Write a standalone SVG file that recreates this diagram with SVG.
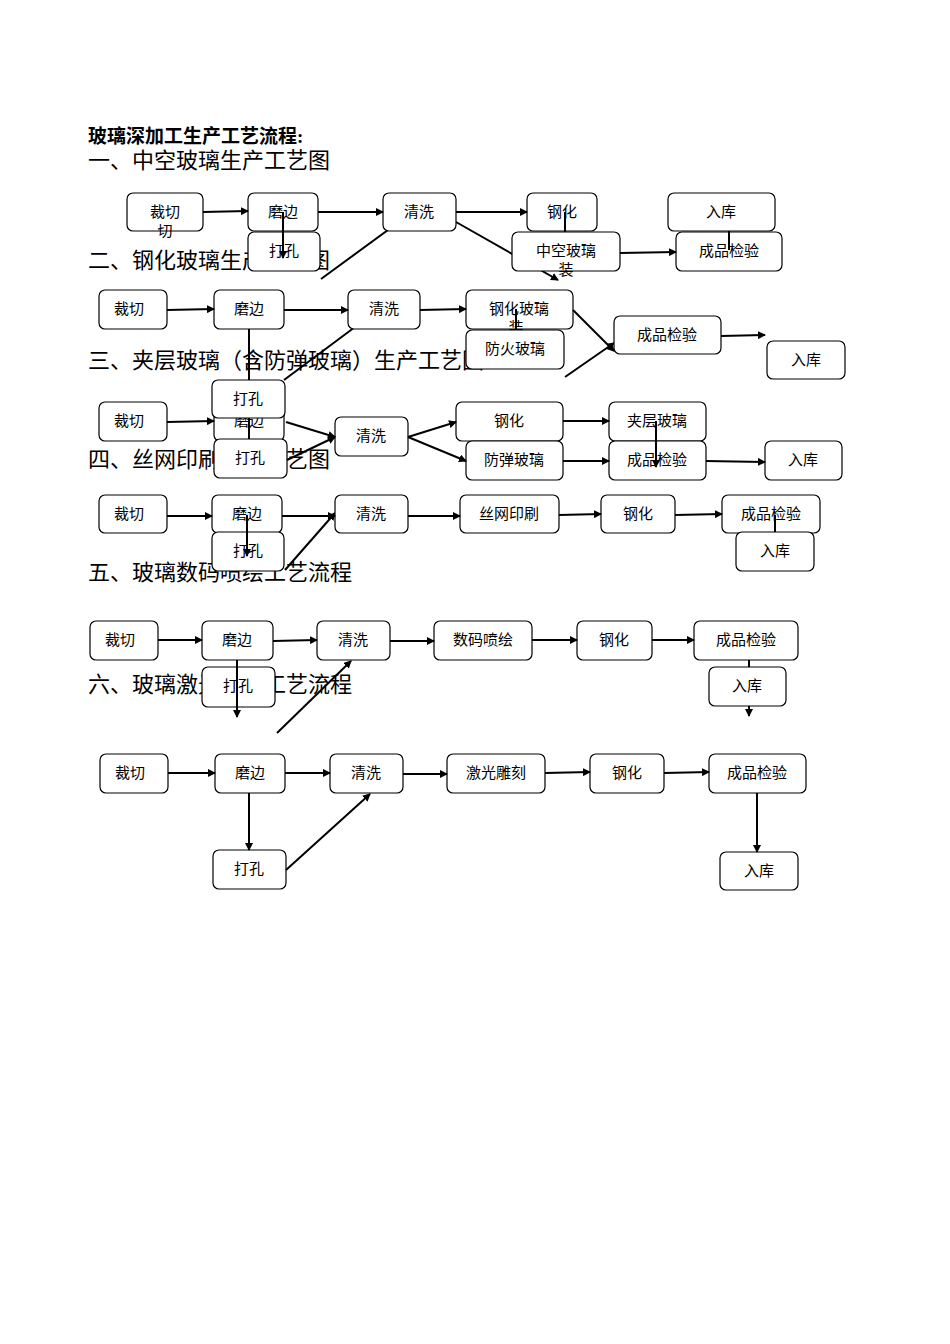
<svg xmlns="http://www.w3.org/2000/svg" width="950" height="1344" viewBox="0 0 950 1344">
<style>
.h{font-family:"Liberation Serif","Noto Sans CJK SC",serif;font-size:22px;fill:#000}
.t{font-family:"Liberation Serif","Noto Sans CJK SC",serif;font-size:19px;font-weight:bold;fill:#000}
.b rect{fill:#fff;stroke:#000;stroke-width:1.2}
.b text{font-family:"Liberation Sans","Noto Sans CJK SC",sans-serif;font-size:15px;text-anchor:middle;fill:#000}
.c line{stroke:#000;stroke-width:2}
</style>
<defs><marker id="a" markerWidth="8" markerHeight="8" refX="7" refY="4" orient="auto" markerUnits="userSpaceOnUse"><path d="M0,0L8,4L0,8z" fill="#000"/></marker></defs>
<rect width="950" height="1344" fill="#fff"/>
<g id="headings">
<text class="t" x="88" y="143">玻璃深加工生产工艺流程:</text>
<text class="h" x="88" y="168">一、中空玻璃生产工艺图</text>
<text class="h" x="88" y="268">二、钢化玻璃生产工艺图</text>
<text class="h" x="88" y="368">三、夹层玻璃（含防弹玻璃）生产工艺图</text>
<text class="h" x="88" y="467">四、丝网印刷生产工艺图</text>
<text class="h" x="88" y="580">五、玻璃数码喷绘工艺流程</text>
<text class="h" x="88" y="692">六、玻璃激光雕刻工艺流程</text>
</g>
<g id="connectors-back" class="c">
<line x1="456" y1="222" x2="558" y2="280" marker-end="url(#a)"/>
<line x1="321" y1="279" x2="418" y2="208" marker-end="url(#a)"/>
<line x1="284" y1="380" x2="355" y2="327"/>
<line x1="565" y1="377" x2="614" y2="343" marker-end="url(#a)"/>
<line x1="285" y1="570" x2="335" y2="513" marker-end="url(#a)"/>
</g>
<g class="b">
<g id="r1a"><rect x="127" y="193" width="76" height="38" rx="6"/><text x="165" y="217">裁切</text><text x="165" y="236">切</text></g>
<g id="r1b"><rect x="248" y="193" width="70" height="38" rx="6"/><text x="283" y="217">磨边</text></g>
<g id="r1c"><rect x="383" y="193" width="73" height="38" rx="6"/><text x="419" y="217">清洗</text></g>
<g id="r1d"><rect x="527" y="193" width="70" height="38" rx="6"/><text x="562" y="217">钢化</text></g>
<g id="r1e"><rect x="668" y="193" width="107" height="38" rx="6"/><text x="721" y="217">入库</text></g>
<g id="r1f"><rect x="248" y="232" width="72" height="39" rx="6"/><text x="284" y="256">打孔</text></g>
<g id="r1g"><rect x="512" y="232" width="108" height="39" rx="6"/><text x="566" y="256">中空玻璃</text><text x="566" y="275">装</text></g>
<g id="r1h"><rect x="676" y="232" width="106" height="39" rx="6"/><text x="729" y="256">成品检验</text></g>

<g id="r2a"><rect x="99" y="290" width="68" height="39" rx="6"/><text x="129" y="314">裁切</text></g>
<g id="r2b"><rect x="214" y="290" width="70" height="39" rx="6"/><text x="249" y="314">磨边</text></g>
<g id="r2c"><rect x="348" y="290" width="72" height="39" rx="6"/><text x="384" y="314">清洗</text></g>
<g id="r2d"><rect x="466" y="290" width="107" height="39" rx="6"/><text x="519" y="314">钢化玻璃</text><text x="516" y="333">装</text></g>
<g id="r2e"><rect x="466" y="330" width="98" height="39" rx="6"/><text x="515" y="354">防火玻璃</text></g>
<g id="r2f"><rect x="614" y="316" width="107" height="38" rx="6"/><text x="667" y="340">成品检验</text></g>
<g id="r2g"><rect x="767" y="341" width="78" height="38" rx="6"/><text x="806" y="365">入库</text></g>

<g id="r3a"><rect x="99" y="402" width="68" height="39" rx="6"/><text x="129" y="426">裁切</text></g>
<g id="r3b"><rect x="214" y="402" width="70" height="39" rx="6"/><text x="249" y="426">磨边</text></g>
<g id="r3c"><rect x="212" y="380" width="73" height="38" rx="6"/><text x="248" y="404">打孔</text></g>
<g id="r3d"><rect x="214" y="439" width="73" height="39" rx="6"/><text x="250" y="463">打孔</text></g>
<g id="r3e"><rect x="335" y="417" width="73" height="39" rx="6"/><text x="371" y="441">清洗</text></g>
<g id="r3f"><rect x="456" y="402" width="107" height="39" rx="6"/><text x="509" y="426">钢化</text></g>
<g id="r3g"><rect x="466" y="441" width="97" height="39" rx="6"/><text x="514" y="465">防弹玻璃</text></g>
<g id="r3h"><rect x="609" y="402" width="97" height="39" rx="6"/><text x="657" y="426">夹层玻璃</text></g>
<g id="r3i"><rect x="609" y="441" width="97" height="39" rx="6"/><text x="657" y="465">成品检验</text></g>
<g id="r3j"><rect x="765" y="441" width="77" height="39" rx="6"/><text x="803" y="465">入库</text></g>

<g id="r4a"><rect x="99" y="495" width="68" height="38" rx="6"/><text x="129" y="519">裁切</text></g>
<g id="r4b"><rect x="212" y="495" width="70" height="38" rx="6"/><text x="247" y="519">磨边</text></g>
<g id="r4c"><rect x="335" y="495" width="73" height="38" rx="6"/><text x="371" y="519">清洗</text></g>
<g id="r4d"><rect x="460" y="495" width="99" height="38" rx="6"/><text x="509" y="519">丝网印刷</text></g>
<g id="r4e"><rect x="601" y="495" width="74" height="38" rx="6"/><text x="638" y="519">钢化</text></g>
<g id="r4f"><rect x="722" y="495" width="98" height="38" rx="6"/><text x="771" y="519">成品检验</text></g>
<g id="r4g"><rect x="212" y="532" width="72" height="39" rx="6"/><text x="248" y="556">打孔</text></g>
<g id="r4h"><rect x="736" y="532" width="78" height="39" rx="6"/><text x="775" y="556">入库</text></g>

<g id="r5a"><rect x="90" y="621" width="68" height="39" rx="6"/><text x="120" y="645">裁切</text></g>
<g id="r5b"><rect x="202" y="621" width="71" height="39" rx="6"/><text x="237" y="645">磨边</text></g>
<g id="r5c"><rect x="317" y="621" width="73" height="39" rx="6"/><text x="353" y="645">清洗</text></g>
<g id="r5d"><rect x="434" y="621" width="98" height="39" rx="6"/><text x="483" y="645">数码喷绘</text></g>
<g id="r5e"><rect x="577" y="621" width="75" height="39" rx="6"/><text x="614" y="645">钢化</text></g>
<g id="r5f"><rect x="694" y="621" width="104" height="39" rx="6"/><text x="746" y="645">成品检验</text></g>
<g id="r5g"><rect x="202" y="667" width="73" height="40" rx="6"/><text x="238" y="691">打孔</text></g>
<g id="r5h"><rect x="709" y="667" width="77" height="39" rx="6"/><text x="747" y="691">入库</text></g>

<g id="r6a"><rect x="100" y="754" width="68" height="39" rx="6"/><text x="130" y="778">裁切</text></g>
<g id="r6b"><rect x="215" y="754" width="70" height="39" rx="6"/><text x="250" y="778">磨边</text></g>
<g id="r6c"><rect x="330" y="754" width="73" height="39" rx="6"/><text x="366" y="778">清洗</text></g>
<g id="r6d"><rect x="447" y="754" width="98" height="39" rx="6"/><text x="496" y="778">激光雕刻</text></g>
<g id="r6e"><rect x="590" y="754" width="74" height="39" rx="6"/><text x="627" y="778">钢化</text></g>
<g id="r6f"><rect x="709" y="754" width="97" height="39" rx="6"/><text x="757" y="778">成品检验</text></g>
<g id="r6g"><rect x="213" y="850" width="73" height="39" rx="6"/><text x="249" y="874">打孔</text></g>
<g id="r6h"><rect x="720" y="852" width="78" height="38" rx="6"/><text x="759" y="876">入库</text></g>
</g>
<g id="connectors" class="c">
<line x1="203" y1="212" x2="248" y2="211" marker-end="url(#a)"/>
<line x1="318" y1="212" x2="383" y2="212" marker-end="url(#a)"/>
<line x1="456" y1="212" x2="527" y2="212" marker-end="url(#a)"/>
<line x1="283" y1="212" x2="283" y2="258" marker-end="url(#a)"/>
<line x1="565" y1="212" x2="565" y2="232"/>
<line x1="620" y1="253" x2="676" y2="252" marker-end="url(#a)"/>
<line x1="729" y1="231" x2="729" y2="250"/>
<line x1="167" y1="310" x2="214" y2="309" marker-end="url(#a)"/>
<line x1="284" y1="310" x2="348" y2="310" marker-end="url(#a)"/>
<line x1="420" y1="310" x2="466" y2="309" marker-end="url(#a)"/>
<line x1="249" y1="329" x2="249" y2="380"/>
<line x1="516" y1="309" x2="516" y2="330"/>
<line x1="573" y1="310" x2="614" y2="351" marker-end="url(#a)"/>
<line x1="721" y1="336" x2="765" y2="335" marker-end="url(#a)"/>
<line x1="167" y1="422" x2="214" y2="421" marker-end="url(#a)"/>
<line x1="249" y1="418" x2="249" y2="439"/>
<line x1="286" y1="422" x2="335" y2="437" marker-end="url(#a)"/>
<line x1="287" y1="460" x2="335" y2="437" marker-end="url(#a)"/>
<line x1="408" y1="437" x2="456" y2="422" marker-end="url(#a)"/>
<line x1="408" y1="437" x2="466" y2="461" marker-end="url(#a)"/>
<line x1="563" y1="421" x2="609" y2="421" marker-end="url(#a)"/>
<line x1="563" y1="461" x2="609" y2="461" marker-end="url(#a)"/>
<line x1="656" y1="421" x2="656" y2="467" marker-end="url(#a)"/>
<line x1="706" y1="461" x2="765" y2="462" marker-end="url(#a)"/>
<line x1="167" y1="516" x2="212" y2="516" marker-end="url(#a)"/>
<line x1="282" y1="516" x2="335" y2="516" marker-end="url(#a)"/>
<line x1="408" y1="516" x2="460" y2="516" marker-end="url(#a)"/>
<line x1="559" y1="515" x2="601" y2="514" marker-end="url(#a)"/>
<line x1="675" y1="515" x2="722" y2="514" marker-end="url(#a)"/>
<line x1="247" y1="515" x2="247" y2="556" marker-end="url(#a)"/>
<line x1="775" y1="515" x2="775" y2="532"/>
<line x1="158" y1="640" x2="202" y2="640" marker-end="url(#a)"/>
<line x1="273" y1="641" x2="317" y2="640" marker-end="url(#a)"/>
<line x1="390" y1="641" x2="434" y2="641" marker-end="url(#a)"/>
<line x1="532" y1="640" x2="577" y2="640" marker-end="url(#a)"/>
<line x1="652" y1="640" x2="694" y2="640" marker-end="url(#a)"/>
<line x1="237" y1="660" x2="237" y2="717" marker-end="url(#a)"/>
<line x1="277" y1="733" x2="351" y2="661" marker-end="url(#a)"/>
<line x1="749" y1="660" x2="749" y2="667"/>
<line x1="749" y1="706" x2="749" y2="716" marker-end="url(#a)"/>
<line x1="168" y1="773" x2="215" y2="773" marker-end="url(#a)"/>
<line x1="285" y1="773" x2="330" y2="773" marker-end="url(#a)"/>
<line x1="403" y1="774" x2="447" y2="774" marker-end="url(#a)"/>
<line x1="545" y1="773" x2="590" y2="772" marker-end="url(#a)"/>
<line x1="664" y1="773" x2="709" y2="772" marker-end="url(#a)"/>
<line x1="249" y1="793" x2="249" y2="850" marker-end="url(#a)"/>
<line x1="286" y1="870" x2="370" y2="794" marker-end="url(#a)"/>
<line x1="757" y1="793" x2="757" y2="852" marker-end="url(#a)"/>
</g>
</svg>
